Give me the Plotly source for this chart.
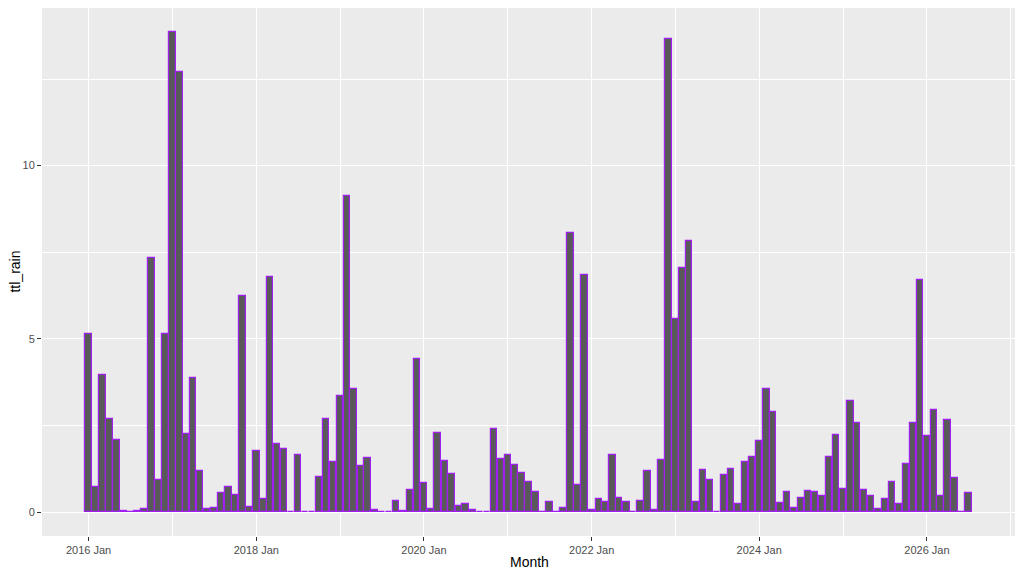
import pandas as pd
import plotly.graph_objects as go

# monthly total rain, one list per year (Jan..Dec)
rain_2016 = [5.15, 0.73, 3.95, 2.69, 2.07, 0.03, 0.01, 0.04, 0.10, 7.32, 0.93, 5.15]
rain_2017 = [13.87, 12.71, 2.26, 3.86, 1.20, 0.08, 0.11, 0.55, 0.72, 0.48, 6.23, 0.14]
rain_2018 = [1.77, 0.38, 6.80, 1.98, 1.83, 0.01, 1.66, 0.01, 0.01, 1.00, 2.69, 1.45]
rain_2019 = [3.34, 9.13, 3.54, 1.34, 1.55, 0.06, 0.01, 0.01, 0.31, 0.02, 0.63, 4.42]
rain_2020 = [0.83, 0.08, 2.27, 1.48, 1.11, 0.19, 0.22, 0.05, 0.01, 0.01, 2.39, 1.54]
rain_2021 = [1.66, 1.36, 1.14, 0.87, 0.59, 0.01, 0.28, 0.01, 0.11, 8.05, 0.77, 6.84]
rain_2022 = [0.07, 0.39, 0.29, 1.65, 0.40, 0.28, 0.01, 0.32, 1.19, 0.07, 1.50, 13.65]
rain_2023 = [5.58, 7.06, 7.83, 0.28, 1.21, 0.92, 0.01, 1.08, 1.25, 0.22, 1.44, 1.60]
rain_2024 = [2.04, 3.55, 2.88, 0.27, 0.58, 0.13, 0.42, 0.61, 0.59, 0.47, 1.58, 2.23]
rain_2025 = [0.67, 3.21, 2.58, 0.63, 0.47, 0.08, 0.39, 0.86, 0.24, 1.39, 2.57, 6.70]
rain_2026 = [2.20, 2.94, 0.47, 2.67, 0.97, 0.01, 0.56]

ttl_rain = (rain_2016 + rain_2017 + rain_2018 + rain_2019 + rain_2020 + rain_2021
            + rain_2022 + rain_2023 + rain_2024 + rain_2025 + rain_2026)
months = pd.date_range("2016-01-01", periods=len(ttl_rain), freq="MS")

DAY_MS = 86400000
font = "Liberation Sans, Arial, sans-serif"

fig = go.Figure()
fig.add_trace(go.Bar(
    x=months,
    y=ttl_rain,
    width=[28 * DAY_MS] * len(ttl_rain),
    marker=dict(color="#595959", line=dict(color="#A020F0", width=1.2)),
    showlegend=False,
))

fig.update_xaxes(
    type="date",
    range=["2015-06-12", "2027-01-24"],
    tick0="2016-01-01",
    dtick="M24",
    tickformat="%Y %b",
    ticks="outside",
    ticklen=4,
    tickcolor="#333333",
    tickfont=dict(size=11, color="#4D4D4D", family=font),
    showgrid=True,
    gridcolor="white",
    gridwidth=1.1,
    minor=dict(dtick="M12", showgrid=True, gridcolor="white", gridwidth=0.5),
    zeroline=False,
    showline=False,
    automargin=False,
)
fig.update_yaxes(
    range=[-0.69, 14.55],
    tickvals=[0, 5, 10],
    ticks="outside",
    ticklen=4,
    tickcolor="#333333",
    tickfont=dict(size=11, color="#4D4D4D", family=font),
    showgrid=True,
    gridcolor="white",
    gridwidth=1.1,
    minor=dict(tickvals=[2.5, 7.5, 12.5], showgrid=True, gridcolor="white", gridwidth=0.5),
    zeroline=False,
    showline=False,
    automargin=False,
)

# axis titles as annotations so the panel keeps its place
fig.add_annotation(text="Month", xref="paper", yref="paper", x=0.5, y=-0.049,
                   showarrow=False, yanchor="middle",
                   font=dict(size=14, color="black", family=font))
fig.add_annotation(text="ttl_rain", xref="paper", yref="paper", x=-0.0282, y=0.5,
                   showarrow=False, textangle=-90, xanchor="center",
                   font=dict(size=14, color="black", family=font))

# the page has an 8px body margin, so the figure is a bit smaller than the window
fig.update_layout(
    width=1015,
    height=568,
    margin=dict(l=34, r=7, t=0, b=40),
    paper_bgcolor="white",
    plot_bgcolor="#EBEBEB",
    bargap=0,
)
fig.write_html("out.html")
